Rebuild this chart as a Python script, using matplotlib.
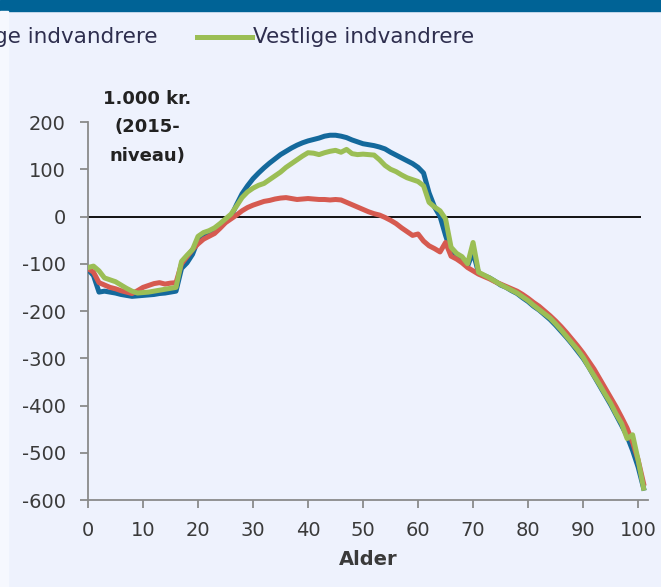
import matplotlib
matplotlib.use("Agg")
import matplotlib.pyplot as plt
from matplotlib.lines import Line2D
from matplotlib.patches import Rectangle

plt.rcParams["axes.unicode_minus"] = False

ages = list(range(0, 102))

dansk = [-112, -125, -160, -158, -160, -162, -165, -167, -169, -168,
         -167, -166, -165, -163, -162, -160, -158, -110, -98, -80,
         -50, -40, -35, -30, -22, -12, 0, 25, 48, 65,
         80, 92, 103, 113, 122, 131, 138, 145, 151, 156,
         160, 163, 166, 170, 172, 172, 170, 167, 162, 158,
         154, 152, 150, 147, 143, 136, 130, 124, 118, 112,
         104, 92, 50, 20, 0, -40, -75, -85, -92, -105,
         -75, -120, -125, -130, -137, -145, -150, -157, -163, -172,
         -180, -190, -198, -208, -218, -230, -243, -256, -270, -285,
         -300, -318, -338, -358, -378, -398, -420, -442, -465, -495,
         -530, -575]

ikke_vestlige = [-110, -118, -140, -145, -150, -153, -157, -160, -163, -157,
                 -150, -146, -142, -140, -143, -141, -140, -100, -85, -70,
                 -58, -48, -42, -36, -25, -13, -5, 3, 12, 19,
                 24, 28, 32, 34, 37, 39, 40, 38, 36, 37,
                 38, 37, 36, 36, 35, 36, 35, 30, 25, 20,
                 15, 10, 6, 3, -2, -8, -15, -24, -32, -40,
                 -37, -52, -62, -68, -75, -55, -84, -90, -98, -108,
                 -115, -122, -127, -132, -138, -143, -148, -153, -158, -165,
                 -173, -182, -190, -200, -210, -221, -233, -246, -260, -274,
                 -289, -306, -323, -343, -363, -383, -403, -425, -448, -478,
                 -515, -565]

vestlige = [-108, -105, -115, -130, -134, -138, -145, -152, -158, -162,
            -161, -160, -158, -156, -154, -152, -150, -95, -82, -70,
            -42, -34, -30, -24, -15, -5, 5, 22, 40, 52,
            60, 66, 70, 78, 86, 94, 104, 112, 120, 128,
            135, 134, 131, 135, 138, 140, 136, 142, 133, 131,
            132, 131, 130, 120, 108, 100, 95, 88, 82, 78,
            74, 65, 30, 20, 12, -5, -65, -78, -85, -100,
            -55, -118, -124, -130, -137, -144, -150, -156, -162, -170,
            -178, -188, -197, -206, -215, -227, -240, -254, -268, -282,
            -298, -318, -337, -356, -376, -395, -418, -438, -470, -462,
            -515, -575]

x_ticks = list(range(0, 101, 10))
y_ticks = list(range(-600, 201, 100))

bg = "#EEF2FD"
blue = "#14699C"
red = "#D65A50"
green = "#9BBE55"
grey = "#8A8A8A"
txt = "#3A3A3A"

fig = plt.figure(figsize=(6.61, 5.87), dpi=100, facecolor=bg)
ax = fig.add_axes([88 / 661, 1 - 500 / 587, 560 / 661, 378 / 587])
ax.set_facecolor(bg)

# top bar and lighter left strip
fig.patches.append(Rectangle((0, 1 - 11 / 587), 1, 11 / 587, transform=fig.transFigure,
                             color="#006396", zorder=0))
fig.patches.append(Rectangle((0, 0), 8 / 661, 1 - 11 / 587, transform=fig.transFigure,
                             color="#F6F8FE", zorder=0))

ax.hlines(0, 0, 100.5, color="black", lw=1.3, zorder=2)
ax.plot(ages, dansk, color=blue, lw=3.6, zorder=3, solid_joinstyle="round")
ax.plot(ages, ikke_vestlige, color=red, lw=3.6, zorder=4, solid_joinstyle="round")
ax.plot(ages, vestlige, color=green, lw=3.6, zorder=5, solid_joinstyle="round")

ax.set_xlim(0, 101.8)
ax.set_ylim(-600, 200)
ax.set_xticks(x_ticks)
ax.set_yticks(y_ticks)
for s in ["top", "right"]:
    ax.spines[s].set_visible(False)
for s in ["left", "bottom"]:
    ax.spines[s].set_color(grey)
    ax.spines[s].set_linewidth(1.3)
ax.tick_params(axis="both", colors=grey, width=1.3, length=6, direction="out",
               labelcolor=txt, labelsize=14)
ax.tick_params(axis="y", pad=10)
ax.tick_params(axis="x", pad=9)
ax.set_xlabel("Alder", fontsize=14, fontweight="bold", color=txt, labelpad=7)

ax.text(147 / 661, 1 - 127 / 587, "1.000 kr.\n(2015-\nniveau)", transform=fig.transFigure,
        ha="center", va="center", fontsize=13, fontweight="bold", color="#222222",
        linespacing=1.75)

# legend row (cut off on the left, as in the original)
ly = 1 - 37 / 587
fig.text(157 / 661, ly, "Ikke-vestlige indvandrere", ha="right", va="center",
         fontsize=15.5, color="#2E2E4E")
fig.lines.append(Line2D([197 / 661, 252 / 661], [ly, ly], transform=fig.transFigure,
                        color=green, lw=3.6))
fig.text(253 / 661, ly, "Vestlige indvandrere", ha="left", va="center",
         fontsize=15.5, color="#2E2E4E")

fig.savefig("out.png", dpi=100, facecolor=bg)
